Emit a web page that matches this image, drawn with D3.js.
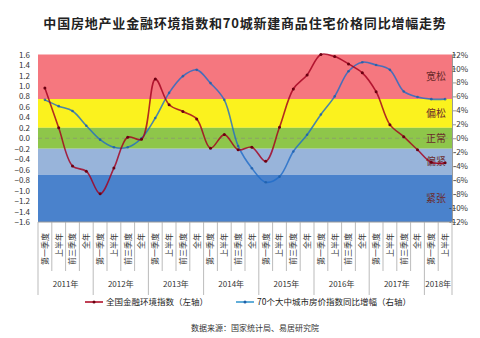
<!DOCTYPE html>
<html><head><meta charset="utf-8">
<script src="https://cdn.jsdelivr.net/npm/d3@7"></script>
<style>
body{margin:0;background:#fff}
svg{display:block}
text{font-family:"Noto Sans CJK SC","DejaVu Sans",sans-serif}
</style>
</head><body>
<svg id="c" width="480" height="338"></svg>
<script>
// ---------------- data ----------------
const years = ["2011年","2012年","2013年","2014年","2015年","2016年","2017年","2018年"];
const yearPeriodCounts = [4,4,4,4,4,4,4,2];
const periodLabels = ["第一季度","上半年","前三季度","全年"];
// 全国金融环境指数（左轴）
const finIndex = [0.96,0.20,-0.53,-0.63,-1.06,-0.57,0.02,-0.02,1.13,0.64,0.51,0.37,-0.19,0.07,-0.22,-0.17,-0.44,0.21,0.94,1.21,1.60,1.56,1.42,1.25,0.89,0.26,0.03,-0.22,-0.46,-0.47];
// 70个大中城市房价指数同比增幅（右轴, %）
const priceGrowth = [5.5,4.6,3.9,1.8,-0.2,-1.3,-1.3,0.0,2.9,6.5,8.9,9.8,7.9,5.5,-1.1,-4.3,-6.3,-5.5,-1.9,0.5,3.4,6.0,9.6,10.9,10.5,9.8,6.7,5.9,5.6,5.6];
const leftTicks = [1.6,1.4,1.2,1.0,0.8,0.6,0.4,0.2,0.0,-0.2,-0.4,-0.6,-0.8,-1.0,-1.2,-1.4,-1.6];
const rightTicks = [12,10,8,6,4,2,0,-2,-4,-6,-8,-10,-12];
const bandEdges = [1.6,0.75,0.2,-0.2,-0.7,-1.6];
const bandNames = ["宽松","偏松","正常","偏紧","紧张"];
const bandColors = ["#f5777f","#fbf21e","#8ec64a","#98b4da","#4a82cc"];
const seriesNames = ["全国金融环境指数（左轴）","70个大中城市房价指数同比增幅（右轴）"];
const titleText = "中国房地产业金融环境指数和70城新建商品住宅价格同比增幅走势";
const sourceText = "数据来源：国家统计局、易居研究院";

// ---------------- build ----------------
const cats = [];
years.forEach((y,yi)=>{ for(let q=0;q<yearPeriodCounts[yi];q++) cats.push({year:y, label:periodLabels[q], yi}); });

const svg = d3.select("#c");
const L = 38, R = 452, T = 54.5, B = 222;
const x = d3.scaleBand().domain(d3.range(cats.length)).range([L,R]);
const yL = d3.scaleLinear().domain([-1.6,1.6]).range([B,T]);
const yR = d3.scaleLinear().domain([-12,12]).range([B,T]);
const cx = i => x(i) + x.bandwidth()/2;

// title
svg.append("text").attr("x",245).attr("y",28).attr("text-anchor","middle")
  .attr("font-size",13).attr("font-weight","bold").attr("letter-spacing",0.8).attr("fill","#222").text(titleText);

// bands
const bands = bandNames.map((n,i)=>({name:n,hi:bandEdges[i],lo:bandEdges[i+1],color:bandColors[i]}));
svg.append("g").selectAll("rect").data(bands).join("rect")
  .attr("x",L).attr("width",R-L)
  .attr("y",d=>yL(d.hi)).attr("height",d=>yL(d.lo)-yL(d.hi))
  .attr("fill",d=>d.color);

// zero dashed line
svg.append("line").attr("x1",L).attr("x2",R).attr("y1",yL(0)).attr("y2",yL(0))
  .attr("stroke","#8a9a70").attr("stroke-width",0.8).attr("stroke-dasharray","4,3");

// band labels
svg.append("g").selectAll("text").data(bands).join("text")
  .attr("x",436).attr("y",d=>(yL(d.hi)+yL(d.lo))/2).attr("dy","0.35em")
  .attr("text-anchor","middle").attr("font-size",10).attr("fill","#6a2a2a").text(d=>d.name);

// left axis
const gL = svg.append("g").attr("transform",`translate(${L},0)`)
  .call(d3.axisLeft(yL).tickValues(leftTicks).tickSize(0).tickPadding(8).tickFormat(d3.format(".1f")));
gL.select(".domain").remove();
gL.selectAll("text").attr("font-size",8).attr("fill","#333").attr("font-family","DejaVu Sans");

// right axis
const gR = svg.append("g").attr("transform",`translate(${R},0)`)
  .call(d3.axisRight(yR).tickValues(rightTicks).tickSize(4).tickFormat(d=>d+"%"));
gR.select(".domain").attr("stroke","#999");
gR.selectAll("line").attr("stroke","#999");
gR.selectAll("text").attr("font-size",8).attr("fill","#333").attr("text-anchor","end").attr("x",16).attr("font-family","DejaVu Sans");

// x axis grid
const gx = svg.append("g");
gx.append("line").attr("x1",L).attr("x2",R).attr("y1",B).attr("y2",B).attr("stroke","#999");
const boundaries = d3.range(cats.length+1);
gx.selectAll("line.b").data(boundaries).join("line").attr("class","b")
  .attr("x1",i=> i<cats.length? x(i): R).attr("x2",i=> i<cats.length? x(i): R)
  .attr("y1",B)
  .attr("y2",i=> (i===0||i===cats.length||cats[i].yi!==cats[i-1].yi)? 295 : 271)
  .attr("stroke","#aaa").attr("stroke-width",0.8);
gx.selectAll("text.p").data(cats).join("text").attr("class","p")
  .attr("transform",(d,i)=>`translate(${cx(i)},233) rotate(-90)`)
  .attr("dy","0.35em").attr("text-anchor","end").attr("font-size",8).attr("fill","#333")
  .text(d=>d.label);
// year labels
const yearSpans = years.map((y,yi)=>{
  const idx = cats.map((c,i)=>c.yi===yi?i:-1).filter(i=>i>=0);
  return {y, x0:x(idx[0]), x1:x(idx[idx.length-1])+x.bandwidth()};
});
gx.selectAll("text.y").data(yearSpans).join("text").attr("class","y")
  .attr("x",d=>(d.x0+d.x1)/2).attr("y",284).attr("dy","0.35em").attr("text-anchor","middle")
  .attr("font-size",8).attr("fill","#333").text(d=>d.y);

// lines
const curve = d3.curveCatmullRom.alpha(0.5);
const lineL = d3.line().x((d,i)=>cx(i)).y(d=>yL(d)).curve(curve);
const lineR = d3.line().x((d,i)=>cx(i)).y(d=>yR(d)).curve(curve);
svg.append("path").datum(priceGrowth).attr("d",lineR).attr("fill","none")
  .attr("stroke","#1f6cc8").attr("stroke-opacity",0.8).attr("stroke-width",1.6);
svg.append("g").selectAll("circle").data(priceGrowth).join("circle")
  .attr("cx",(d,i)=>cx(i)).attr("cy",d=>yR(d)).attr("r",1.3).attr("fill","#1f5fa8").attr("fill-opacity",0.8);
svg.append("path").datum(finIndex).attr("d",lineL).attr("fill","none")
  .attr("stroke","#a3001f").attr("stroke-opacity",0.82).attr("stroke-width",1.6);
svg.append("g").selectAll("circle").data(finIndex).join("circle")
  .attr("cx",(d,i)=>cx(i)).attr("cy",d=>yL(d)).attr("r",1.5).attr("fill","#6a0010");

// legend
const lg = svg.append("g");
const legendItems = [
  {name:seriesNames[0], color:"#b0102a", dot:"#6a0010", x:85},
  {name:seriesNames[1], color:"#3a9ad0", dot:"#1f5fa8", x:236}
];
legendItems.forEach(it=>{
  lg.append("line").attr("x1",it.x).attr("x2",it.x+18).attr("y1",302).attr("y2",302).attr("stroke",it.color).attr("stroke-width",1.6);
  lg.append("circle").attr("cx",it.x+9).attr("cy",302).attr("r",1.5).attr("fill",it.dot);
  lg.append("text").attr("x",it.x+21).attr("y",302).attr("dy","0.35em").attr("font-size",8.5).attr("fill","#222").text(it.name);
});

// source
svg.append("text").attr("x",255).attr("y",328).attr("dy","0.35em").attr("text-anchor","middle")
  .attr("font-size",8).attr("fill","#333").text(sourceText);
</script>
</body></html>
